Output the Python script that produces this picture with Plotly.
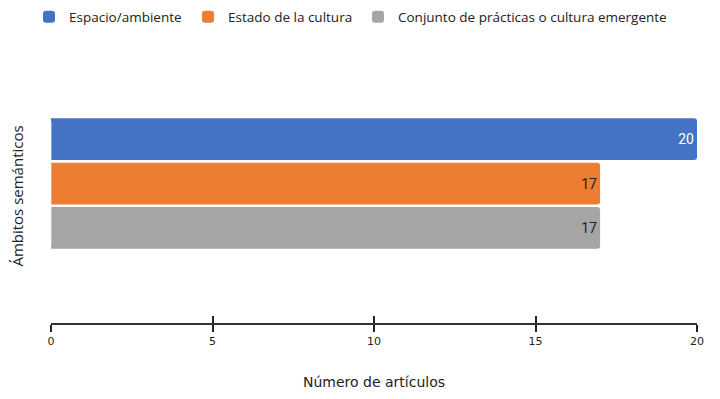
import plotly.graph_objects as go

categories = ["Ámbitos semánticos"]
series_names = ["Espacio/ambiente", "Estado de la cultura", "Conjunto de prácticas o cultura emergente"]
series_values = [[20], [17], [17]]
colors = ["#4472C4", "#ED7D31", "#A5A5A5"]
text_colors = ["#FFFFFF", "#222222", "#222222"]
x_ticks = [0, 5, 10, 15, 20]

FONT = "DejaVu Sans"
LFONT = "Open Sans"
legend_ids = ["legend", "legend2", "legend3"]
legend_x_px = [29, 188, 358]

fig = go.Figure()
for name, vals, col, tc, lg in zip(series_names, series_values, colors, text_colors, legend_ids):
    fig.add_trace(go.Bar(
        y=categories, x=vals, name=name, orientation="h", legend=lg,
        marker=dict(color=col, line=dict(width=0)),
        text=[str(v) for v in vals], textposition="inside", insidetextanchor="end",
        textfont=dict(color=tc, size=14, family="Roboto"),
        xaxis="x", yaxis="y",
    ))

# invisible helper trace to show inside half of tick marks
fig.add_trace(go.Bar(y=categories, x=[0], xaxis="x2", yaxis="y", showlegend=False,
                     orientation="h", marker=dict(color="rgba(0,0,0,0)"), hoverinfo="skip"))

legend_common = dict(orientation="h", xref="container", xanchor="left",
                     y=1 - 17 / 399, yref="container", yanchor="middle",
                     font=dict(family=LFONT, size=13.5, color="#222222"),
                     itemwidth=30, bgcolor="rgba(0,0,0,0)")
legends = {}
for lg, xp in zip(legend_ids, legend_x_px):
    legends[lg] = dict(legend_common, x=xp / 720)

fig.update_layout(
    width=720, height=399,
    margin=dict(l=51, r=23, t=69, b=76, autoexpand=False),
    paper_bgcolor="white", plot_bgcolor="white",
    barmode="group", bargap=0.05, bargroupgap=0.06, barcornerradius=3,
    font=dict(family=FONT, color="#222222"),
    showlegend=True,
    **legends,
    xaxis=dict(range=[0, 20], tickvals=x_ticks, showgrid=False, zeroline=False,
               showline=True, linecolor="#333333", linewidth=2,
               ticks="outside", ticklen=7, tickwidth=2, tickcolor="#222222",
               tickfont=dict(family=FONT, size=11, color="#222222"),
               automargin=False,
               title=dict(text="Número de artículos", standoff=30,
                          font=dict(family=FONT, size=14, color="#222222"))),
    xaxis2=dict(range=[0, 20], tickvals=x_ticks, overlaying="x", anchor="y", side="bottom",
                showgrid=False, zeroline=False, showline=False, showticklabels=False,
                ticks="inside", ticklen=7, tickwidth=2, tickcolor="#222222"),
    yaxis=dict(type="category", range=[0.996, -0.818], showticklabels=False,
               showgrid=False, zeroline=False, showline=False, ticks="",
               automargin=False,
               title=dict(text="Ámbitos semánticos", standoff=22,
                          font=dict(family=LFONT, size=15, color="#222222"))),
)

fig.write_html("out.html", config={"displayModeBar": False},
               post_script="document.body.style.margin='0';")
